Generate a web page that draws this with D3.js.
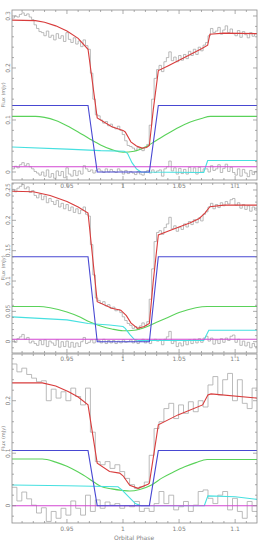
<!DOCTYPE html>
<html><head><meta charset="utf-8">
<script src="https://cdn.jsdelivr.net/npm/d3@7"></script>
<style>html,body{margin:0;padding:0;background:#fff;} svg{display:block;}</style>
</head><body>
<script>
// ---------- shared axis data ----------
const phaseDomain = [0.901, 1.1195];
const xTicks = [0.95, 1, 1.05, 1.1];
const xTickLabels = ["0.95", "1", "1.05", "1.1"];
const xMinorStep = 0.01;
const xTitle = "Orbital Phase";
const yTitle = "Flux (mJy)";

// ---------- panel 1 ----------
const p1YDomain = [-0.0154, 0.3115];
const p1YTicks = [0, 0.1, 0.2, 0.3];
const p1YTickLabels = ["0", "0.1", "0.2", "0.3"];
const p1YMinor = 0.02;
const p1BluePhase = [0.901, 0.9688, 0.977, 1.0235, 1.0315, 1.1195];
const p1BlueFlux  = [0.128, 0.128, 0.0, 0.0, 0.128, 0.128];
const p1GreenPhase = [0.901, 0.922, 0.93, 0.94, 0.95, 0.96, 0.97, 0.98, 0.99, 1.0, 1.01, 1.02, 1.03, 1.04, 1.05, 1.06, 1.07, 1.078, 1.1195];
const p1GreenFlux  = [0.107, 0.107, 0.105, 0.099, 0.089, 0.077, 0.064, 0.052, 0.043, 0.038, 0.040, 0.048, 0.061, 0.074, 0.086, 0.096, 0.103, 0.107, 0.107];
const p1CyanPhase = [0.901, 0.95, 0.98, 1.001, 1.004, 1.008, 1.012, 1.016, 1.072, 1.0755, 1.1195];
const p1CyanFlux  = [0.048, 0.044, 0.041, 0.040, 0.036, 0.018, 0.006, 0.0, -0.001, 0.022, 0.022];
const p1MagPhase = [0.901, 1.1195];
const p1MagFlux  = [0.010, 0.010];
const p1RedPhase = [0.901, 0.922, 0.93, 0.94, 0.95, 0.96, 0.9688, 0.977, 0.99, 1.0, 1.002, 1.007, 1.012, 1.017, 1.021, 1.0235, 1.027, 1.0315, 1.04, 1.05, 1.06, 1.07, 1.0755, 1.0775, 1.09, 1.1195];
const p1RedFlux  = [0.292, 0.291, 0.288, 0.281, 0.271, 0.257, 0.236, 0.104, 0.087, 0.080, 0.077, 0.058, 0.050, 0.046, 0.047, 0.051, 0.12, 0.195, 0.204, 0.215, 0.226, 0.237, 0.244, 0.265, 0.267, 0.266];
const p1DataStart = 0.901, p1DataBin = 0.002185;
const p1Data = [0.296,0.300,0.298,0.303,0.306,0.301,0.304,0.298,0.293,0.283,0.276,0.270,
 0.268,0.262,0.271,0.259,0.263,0.254,0.266,0.257,0.262,0.251,0.268,0.255,0.249,0.258,0.246,0.252,
 0.241,0.254,0.243,0.236,0.19,0.14,0.11,0.108,0.100,0.094,0.097,0.089,0.092,0.086,0.083,0.088,0.080,
 0.072,0.060,0.051,0.049,0.046,0.042,0.047,0.044,0.041,0.048,0.053,0.09,0.14,0.18,0.197,
 0.205,0.193,0.212,0.220,0.231,0.214,0.221,0.212,0.224,0.215,0.226,0.218,0.232,0.224,0.236,
 0.226,0.240,0.233,0.244,0.249,0.262,0.276,0.268,0.271,0.278,0.265,0.273,0.281,0.268,0.275,
 0.266,0.262,0.272,0.259,0.270,0.264,0.258,0.268,0.261,0.266];
const p1Resid = [0.006,0.011,0.008,0.014,0.018,0.012,0.016,0.010,0.006,0.001,-0.002,-0.006,
 0.000,-0.008,0.004,-0.010,-0.003,-0.012,0.002,-0.007,0.001,-0.011,0.008,-0.004,-0.008,0.003,-0.007,0.002,
 -0.004,0.012,0.006,0.001,0.004,-0.002,0.003,0.006,0.002,-0.001,0.006,0.000,0.005,0.001,-0.001,0.006,0.002,
 -0.004,0.003,-0.003,0.001,-0.002,-0.005,0.001,-0.004,-0.006,0.000,0.003,-0.002,0.004,-0.001,0.002,
 0.004,-0.008,0.006,0.010,0.021,0.002,0.008,-0.004,0.007,-0.003,0.005,-0.004,0.009,-0.001,0.008,
 -0.004,0.009,0.000,0.006,0.006,0.000,0.012,0.003,0.006,0.014,-0.001,0.007,0.015,0.001,0.009,
 -0.001,-0.006,0.006,-0.008,0.005,-0.002,-0.009,0.003,-0.005,0.001];

// ---------- panel 2 ----------
const p2YDomain = [-0.0186, 0.2615];
const p2YTicks = [0, 0.05, 0.1, 0.15, 0.2, 0.25];
const p2YTickLabels = ["0", "0.05", "0.1", "0.15", "0.2", "0.25"];
const p2YMinor = 0.01;
const p2BluePhase = [0.901, 0.9688, 0.977, 1.0235, 1.0315, 1.1195];
const p2BlueFlux  = [0.140, 0.140, 0.0, 0.0, 0.140, 0.140];
const p2GreenPhase = [0.901, 0.925, 0.935, 0.95, 0.96, 0.97, 0.98, 0.99, 1.0, 1.01, 1.02, 1.03, 1.04, 1.05, 1.065, 1.075, 1.1195];
const p2GreenFlux  = [0.058, 0.058, 0.056, 0.049, 0.042, 0.033, 0.026, 0.021, 0.018, 0.019, 0.024, 0.032, 0.040, 0.048, 0.056, 0.058, 0.058];
const p2CyanPhase = [0.901, 0.95, 0.969, 0.988, 1.0, 1.002, 1.006, 1.010, 1.014, 1.072, 1.0765, 1.1195];
const p2CyanFlux  = [0.041, 0.036, 0.030, 0.0275, 0.025, 0.022, 0.012, 0.004, 0.002, 0.002, 0.019, 0.019];
const p2MagPhase = [0.901, 1.1195];
const p2MagFlux  = [0.004, 0.004];
const p2RedPhase = [0.901, 0.92, 0.935, 0.95, 0.96, 0.9688, 0.977, 0.99, 0.998, 1.003, 1.007, 1.013, 1.019, 1.0235, 1.027, 1.0315, 1.04, 1.05, 1.06, 1.068, 1.073, 1.0775, 1.09, 1.1195];
const p2RedFlux  = [0.248, 0.247, 0.241, 0.231, 0.222, 0.212, 0.066, 0.055, 0.052, 0.043, 0.031, 0.022, 0.025, 0.030, 0.10, 0.176, 0.182, 0.189, 0.196, 0.203, 0.212, 0.2225, 0.225, 0.225];
const p2DataStart = 0.901, p2DataBin = 0.002185;
const p2Data = [0.251,0.247,0.253,0.256,0.259,0.252,0.255,0.246,0.249,0.241,0.237,0.243,
 0.234,0.240,0.229,0.236,0.231,0.226,0.233,0.222,0.228,0.219,0.226,0.216,0.222,0.213,0.219,0.211,
 0.217,0.222,0.210,0.207,0.16,0.11,0.072,0.068,0.063,0.066,0.059,0.061,0.055,0.057,0.051,0.053,0.048,
 0.041,0.035,0.030,0.027,0.022,0.025,0.020,0.026,0.031,0.027,0.033,0.07,0.12,0.165,0.180,
 0.183,0.177,0.188,0.194,0.205,0.186,0.191,0.182,0.189,0.185,0.194,0.189,0.198,0.193,0.201,
 0.196,0.204,0.199,0.210,0.214,0.222,0.228,0.219,0.226,0.221,0.229,0.224,0.231,0.227,0.234,
 0.236,0.225,0.229,0.220,0.226,0.218,0.224,0.215,0.222,0.217];
const p2Resid = [0.003,-0.001,0.005,0.008,0.012,0.004,0.007,-0.002,0.001,-0.003,-0.006,0.002,
 -0.005,0.003,-0.008,0.001,-0.002,-0.006,0.003,-0.009,0.000,-0.008,0.001,-0.009,-0.001,-0.009,-0.002,-0.008,
 0.000,0.007,-0.003,-0.001,0.003,-0.002,0.004,0.002,-0.002,0.004,-0.003,0.002,-0.002,0.002,-0.003,0.001,-0.002,
 0.003,-0.001,0.000,0.003,-0.002,0.002,-0.003,0.001,0.004,-0.002,0.003,-0.003,0.002,0.004,0.001,
 0.003,-0.005,0.004,0.008,0.017,-0.003,0.001,-0.008,-0.002,-0.007,0.001,-0.005,0.003,-0.003,0.004,
 -0.002,0.005,-0.001,0.006,0.009,0.001,0.006,-0.004,0.003,-0.003,0.005,-0.001,0.006,0.002,0.009,
 0.011,-0.001,0.004,-0.006,0.001,-0.007,-0.001,-0.010,-0.003,-0.008];

// ---------- panel 3 ----------
const p3YDomain = [-0.033, 0.289];
const p3YTicks = [0, 0.1, 0.2];
const p3YTickLabels = ["0", "0.1", "0.2"];
const p3YMinor = 0.02;
const p3BluePhase = [0.901, 0.9688, 0.977, 1.0235, 1.0315, 1.1195];
const p3BlueFlux  = [0.105, 0.105, 0.0, 0.0, 0.105, 0.105];
const p3GreenPhase = [0.901, 0.928, 0.94, 0.95, 0.96, 0.97, 0.98, 0.99, 1.0, 1.006, 1.015, 1.025, 1.035, 1.045, 1.055, 1.065, 1.075, 1.1195];
const p3GreenFlux  = [0.089, 0.089, 0.083, 0.075, 0.064, 0.051, 0.037, 0.032, 0.029, 0.028, 0.031, 0.039, 0.053, 0.064, 0.074, 0.082, 0.088, 0.088];
const p3CyanPhase = [0.901, 0.95, 0.9955, 0.999, 1.006, 1.011, 1.016, 1.0725, 1.0757, 1.10, 1.1195];
const p3CyanFlux  = [0.0394, 0.038, 0.036, 0.030, 0.015, 0.004, 0.0, 0.0, 0.0186, 0.017, 0.012];
const p3MagPhase = [0.901, 1.1195];
const p3MagFlux  = [0.0, 0.0];
const p3RedPhase = [0.901, 0.928, 0.94, 0.9515, 0.96, 0.9688, 0.977, 0.988, 0.997, 1.0, 1.006, 1.0134, 1.0223, 1.0235, 1.0315, 1.049, 1.071, 1.0757, 1.0785, 1.1195];
const p3RedFlux  = [0.234, 0.234, 0.228, 0.217, 0.207, 0.192, 0.081, 0.065, 0.062, 0.057, 0.039, 0.033, 0.041, 0.043, 0.154, 0.173, 0.192, 0.211, 0.213, 0.205];
const p3DataStart = 0.901, p3DataBin = 0.00437;
const p3Data = [0.270,0.255,0.262,0.250,0.243,0.236,0.238,0.200,0.222,0.205,0.217,0.200,0.224,0.208,
 0.192,0.224,0.140,0.084,0.078,0.084,0.071,0.078,0.065,0.052,0.040,0.033,0.036,0.045,0.096,0.147,
 0.160,0.185,0.195,0.166,0.192,0.176,0.198,0.179,0.200,0.188,0.230,0.246,0.211,0.240,0.252,0.200,
 0.240,0.195,0.185,0.224];
const p3Resid = [0.035,0.009,0.026,0.013,0.001,-0.014,-0.004,-0.030,-0.011,-0.024,-0.005,-0.018,0.009,-0.005,
 -0.018,0.020,-0.011,0.011,-0.005,0.007,0.001,0.004,-0.005,0.000,-0.002,0.008,-0.011,-0.005,-0.011,0.004,
 0.027,0.004,0.020,-0.008,-0.002,0.008,-0.011,0.001,0.027,0.030,0.014,0.004,0.020,0.027,-0.008,0.014,
 -0.011,-0.024,0.008,-0.011];

// ---------- styling ----------
const W = 258, H = 542;
const colors = {red:"#d83c3c", blue:"#4848d2", green:"#5ad25a", cyan:"#46e0e0", mag:"#d246d2", data:"#aaaaaa", frame:"#8a8a8a", text:"#808080"};
const left = 12, right = 257;

const panels = [
  {top:10, bottom:180, yDomain:p1YDomain, yTicks:p1YTicks, yLabels:p1YTickLabels, yMinor:p1YMinor,
   comps:[[p1GreenPhase,p1GreenFlux,"green",true],[p1CyanPhase,p1CyanFlux,"cyan",false],[p1MagPhase,p1MagFlux,"mag",false],[p1BluePhase,p1BlueFlux,"blue",false],[p1RedPhase,p1RedFlux,"red",false]],
   data:p1Data, resid:p1Resid, start:p1DataStart, bin:p1DataBin},
  {top:183, bottom:353, yDomain:p2YDomain, yTicks:p2YTicks, yLabels:p2YTickLabels, yMinor:p2YMinor,
   comps:[[p2GreenPhase,p2GreenFlux,"green",true],[p2CyanPhase,p2CyanFlux,"cyan",false],[p2MagPhase,p2MagFlux,"mag",false],[p2BluePhase,p2BlueFlux,"blue",false],[p2RedPhase,p2RedFlux,"red",false]],
   data:p2Data, resid:p2Resid, start:p2DataStart, bin:p2DataBin},
  {top:354, bottom:523, yDomain:p3YDomain, yTicks:p3YTicks, yLabels:p3YTickLabels, yMinor:p3YMinor,
   comps:[[p3GreenPhase,p3GreenFlux,"green",true],[p3CyanPhase,p3CyanFlux,"cyan",false],[p3MagPhase,p3MagFlux,"mag",false],[p3BluePhase,p3BlueFlux,"blue",false],[p3RedPhase,p3RedFlux,"red",false]],
   data:p3Data, resid:p3Resid, start:p3DataStart, bin:p3DataBin}
];

const svg = d3.select("body").append("svg").attr("width", W).attr("height", H)
  .style("font-family", "'DejaVu Sans', sans-serif");
const x = d3.scaleLinear().domain(phaseDomain).range([left, right]);
const xMinorTicks = d3.range(Math.ceil(phaseDomain[0]/xMinorStep), Math.floor(phaseDomain[1]/xMinorStep)+1).map(k => k*xMinorStep);

panels.forEach((p, pi) => {
  const y = d3.scaleLinear().domain(p.yDomain).range([p.bottom, p.top]);
  const clipId = "clip" + pi;
  svg.append("clipPath").attr("id", clipId).append("rect")
    .attr("x", left).attr("y", p.top).attr("width", right-left).attr("height", p.bottom-p.top);
  const g = svg.append("g").attr("clip-path", `url(#${clipId})`);

  const histPts = vals => {
    const pts = vals.map((v, i) => [p.start + i*p.bin, v]);
    pts.push([p.start + vals.length*p.bin, vals[vals.length-1]]);
    return pts;
  };
  const stepLine = d3.line().x(d => x(d[0])).y(d => y(d[1])).curve(d3.curveStepAfter);
  [p.data, p.resid].forEach(arr => {
    g.append("path").attr("d", stepLine(histPts(arr)))
      .attr("fill", "none").attr("stroke", colors.data).attr("stroke-width", 0.8);
  });

  p.comps.forEach(([ph, fl, c, smooth]) => {
    const ln = d3.line().x(d => x(d[0])).y(d => y(d[1]))
      .curve(smooth ? d3.curveMonotoneX : d3.curveLinear);
    g.append("path").attr("d", ln(ph.map((v, i) => [v, fl[i]])))
      .attr("fill", "none").attr("stroke", colors[c]).attr("stroke-width", 1.1);
  });

  // frame
  svg.append("rect").attr("x", left).attr("y", p.top).attr("width", right-left).attr("height", p.bottom-p.top)
    .attr("fill", "none").attr("stroke", colors.frame).attr("stroke-width", 0.8);

  const tk = svg.append("g").attr("stroke", colors.frame).attr("stroke-width", 0.7);
  xMinorTicks.forEach(t => {
    const major = xTicks.some(m => Math.abs(m - t) < 1e-6);
    const len = major ? 4 : 2;
    tk.append("line").attr("x1", x(t)).attr("x2", x(t)).attr("y1", p.bottom).attr("y2", p.bottom - len);
    tk.append("line").attr("x1", x(t)).attr("x2", x(t)).attr("y1", p.top).attr("y2", p.top + len);
  });
  const yMin = d3.range(Math.ceil(p.yDomain[0]/p.yMinor - 1e-6), Math.floor(p.yDomain[1]/p.yMinor + 1e-6)+1).map(k => k*p.yMinor);
  yMin.forEach(t => {
    const major = p.yTicks.some(m => Math.abs(m - t) < 1e-6);
    const len = major ? 4 : 2;
    tk.append("line").attr("y1", y(t)).attr("y2", y(t)).attr("x1", left).attr("x2", left + len);
    tk.append("line").attr("y1", y(t)).attr("y2", y(t)).attr("x1", right).attr("x2", right - len);
  });
  p.yTicks.forEach((t, i) => {
    svg.append("text").attr("transform", `translate(9.5,${y(t)}) rotate(-90)`)
      .attr("text-anchor", "middle").attr("font-size", 6).attr("fill", colors.text).text(p.yLabels[i]);
  });
  xTicks.forEach((t, i) => {
    svg.append("text").attr("x", x(t)).attr("y", p.bottom + 7.5)
      .attr("text-anchor", "middle").attr("font-size", 6).attr("fill", colors.text).text(xTickLabels[i]);
  });
  svg.append("text").attr("transform", `translate(4.6,${(p.top + p.bottom)/2}) rotate(-90)`)
    .attr("text-anchor", "middle").attr("font-size", 5).attr("fill", colors.text).text(yTitle);
});

svg.append("text").attr("x", 134).attr("y", 540).attr("text-anchor", "middle")
  .attr("font-size", 6).attr("fill", colors.text).text(xTitle);
</script>
</body></html>
